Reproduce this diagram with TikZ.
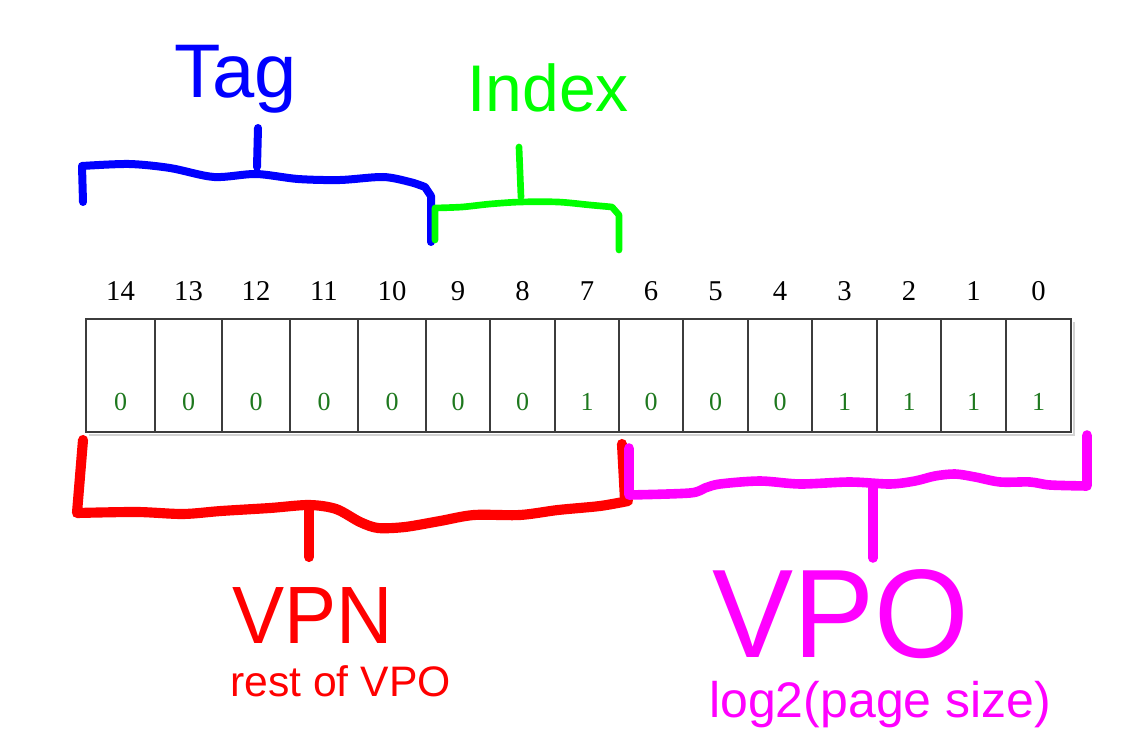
\documentclass[tikz,border=0pt]{standalone}
\usepackage{fontspec}
\setmainfont{Liberation Serif}
\newfontfamily\arialf{Liberation Sans}
\definecolor{bitgreen}{RGB}{30,120,30}
\definecolor{regline}{RGB}{60,60,60}
\definecolor{penblue}{RGB}{0,0,255}
\definecolor{pengreen}{RGB}{0,255,0}
\definecolor{penred}{RGB}{255,0,0}
\definecolor{penmag}{RGB}{255,0,255}
\begin{document}
\begin{tikzpicture}[x=0.75pt,y=-0.75pt,
  cellbox/.style={draw=regline, line width=2pt, inner sep=0pt, minimum height=84.75pt},
  hdrnum/.style={inner sep=0pt, font=\fontsize{21.5}{24}\selectfont},
  bitnum/.style={inner sep=0pt, text=bitgreen, font=\fontsize{19.5}{22}\selectfont},
  lbl/.style={inner sep=0pt, anchor=base west},
  hand/.style={line width=#1, line cap=round, line join=round}]
\useasboundingbox (0,0) rectangle (1133,731);

% shadow of register
\draw[gray!35, line width=2.2pt] (89,435) -- (1074,435) -- (1074,322);

% register cells
\foreach \n/\l/\r/\v in {14/86/155/0, 13/155/222/0, 12/222/290/0, 11/290/358/0,
  10/358/426/0, 9/426/490/0, 8/490/555/0, 7/555/619/1, 6/619/683/0, 5/683/748/0,
  4/748/812/0, 3/812/877/1, 2/877/941/1, 1/941/1006/1, 0/1006/1071/1} {
  \pgfmathsetmacro\w{(\r-\l)*0.75}
  \node[cellbox, minimum width=\w pt] (cell\n) at ({(\l+\r)/2},375.5) {};
  \node[hdrnum] (hdr\n) at ({(\l+\r)/2},291) {\n};
  \node[bitnum] (bit\n) at ({(\l+\r)/2},402) {\v};
}

% Tag bracket (blue)
\draw[hand=6pt, penblue] (83,202) -- (82,166) -- plot[smooth,tension=0.5] coordinates {(82,166) (129,164) (170,168) (214,177) (256,174) (298,179) (340,180) (383,177) (410,182) (425,187)} -- (431,196) -- (431,242);
\draw[hand=6pt, penblue] (258,128) -- (257,167);

% Index bracket (green)
\draw[hand=5pt, pengreen] (435,240) -- (435,208) -- plot[smooth,tension=0.5] coordinates {(435,208) (462,207) (490,204) (520,202) (558,202) (590,205) (612,207)} -- (619,215) -- (619,250);
\draw[hand=5pt, pengreen] (519,147) -- (521,197);

% VPN bracket (red)
\draw[hand=7.6pt, penred] (83,440) -- (77,513) -- plot[smooth,tension=0.5] coordinates {(77,513) (137,512) (183,514) (221,511) (270,508) (309,505) (336,509) (360,522) (378,528) (405,527) (440,521) (474,515) (520,515) (558,510) (600,506) (628,501)};
\draw[hand=7.6pt, penred] (622,444) -- (625,500);
\draw[hand=7.6pt, penred] (309,508) -- (309,557);

% VPO bracket (magenta)
\draw[hand=7.2pt, penmag] (629,448) -- (629,495) -- plot[smooth,tension=0.5] coordinates {(629,495) (690,493) (705,488) (720,484) (760,481) (800,484) (850,482) (890,484) (915,481) (935,476) (955,474) (975,477) (1000,482) (1030,482) (1050,485) (1087,486)} -- (1087,435);
\draw[hand=7.2pt, penmag] (873,488) -- (873,558);

% labels
\node[lbl, text=penblue, font=\arialf\fontsize{57}{60}\selectfont] (tag) at (174,98) {Tag};
\node[lbl, text=pengreen, font=\arialf\fontsize{49.5}{52}\selectfont] (index) at (467,112) {Index};
\node[lbl, text=penred, xscale=0.96, font=\arialf\fontsize{61}{64}\selectfont] (vpn) at (232,643) {VPN};
\node[lbl, text=penred, font=\arialf\fontsize{32}{35}\selectfont] (vpnsub) at (230,696) {rest of VPO};
\node[lbl, text=penmag, xscale=0.965, font=\arialf\fontsize{94.5}{98}\selectfont] (vpo) at (712,657) {VPO};
\node[lbl, text=penmag, font=\arialf\fontsize{37.5}{40}\selectfont] (vposub) at (709,717) {log2(page size)};
\end{tikzpicture}
\end{document}
